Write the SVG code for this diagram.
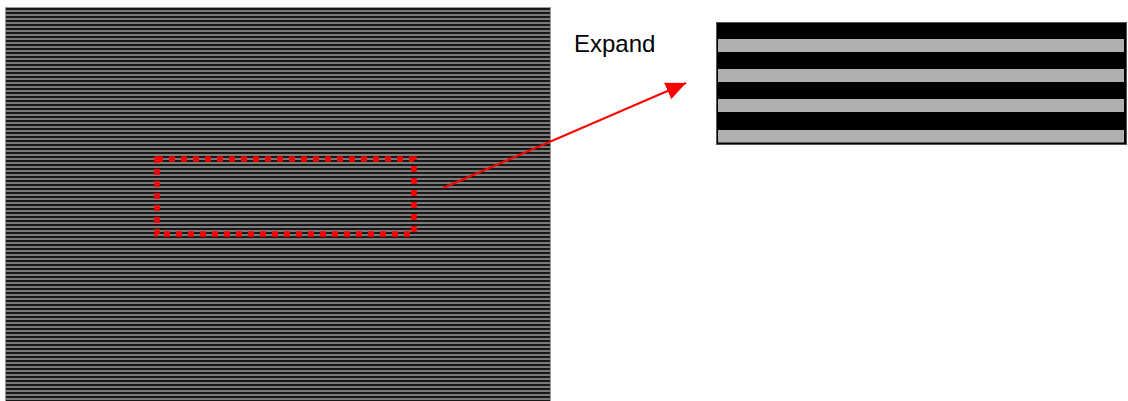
<svg xmlns="http://www.w3.org/2000/svg" width="1128" height="401" viewBox="0 0 1128 401">
  <style>
    .lbl { font-family: "Liberation Sans", Arial, sans-serif; font-size: 24px; fill: #000; }
    .bar { fill: #b0b0b0; }
  </style>
  <defs>
    <pattern id="stripes" x="0" y="8" width="8" height="4" patternUnits="userSpaceOnUse">
      <rect x="0" y="0" width="8" height="4" fill="#181818"/>
      <rect x="0" y="2" width="8" height="2" fill="#7a7a7a"/>
    </pattern>
    <marker id="arrowBig" viewBox="0 0 20 18" refX="20" refY="9" markerWidth="20" markerHeight="18" markerUnits="userSpaceOnUse" orient="auto">
      <path d="M0,0 L20,9 L0,18 Z" fill="#ff0000"/>
    </marker>
  </defs>

  <g id="source-image">
    <rect x="5.5" y="7.5" width="545" height="400" fill="url(#stripes)" stroke="#9a9a9a" stroke-width="1"/>
  </g>

  <g id="selection">
    <rect x="157" y="159" width="257" height="75" fill="none" stroke="#ff0000" stroke-width="5.5" stroke-dasharray="6 6"/>
  </g>

  <g id="expanded-view">
    <rect x="716.5" y="22.5" width="410" height="122" fill="#000" stroke="#555" stroke-width="1"/>
    <rect class="bar" x="718" y="39" width="406" height="13"/>
    <rect class="bar" x="718" y="69" width="406" height="13"/>
    <rect class="bar" x="718" y="99" width="406" height="13"/>
    <rect class="bar" x="718" y="130" width="406" height="12.5"/>
  </g>

  <g id="label">
    <text class="lbl" x="574" y="52">Expand</text>
  </g>

  <g id="connectors">
    <line x1="443" y1="188" x2="686" y2="83" stroke="#ff0000" stroke-width="2" marker-end="url(#arrowBig)"/>
  </g>
</svg>
